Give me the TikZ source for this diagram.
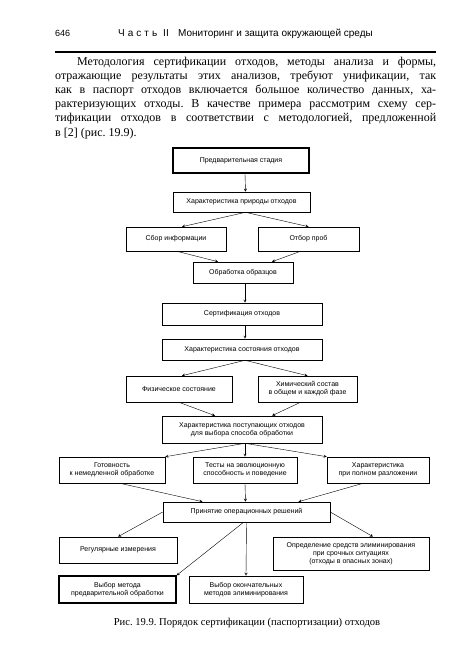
\documentclass[tikz,border=0pt]{standalone}
\usepackage{fontspec}
\setmainfont{Liberation Serif}
\setsansfont{Liberation Sans}
\frenchspacing
\begin{document}
\begin{tikzpicture}[x=1pt,y=-1pt,>=stealth,
	blk/.style={draw,line width=0.6pt,inner sep=1pt,align=center,
		font=\sffamily\fontsize{7}{8}\selectfont},
	thk/.style={line width=1.3pt}]
	\useasboundingbox (0,0) rectangle (450,670);
	
	% page head
	\node[anchor=base west,inner sep=0,font=\sffamily\fontsize{9}{10}\selectfont] (pg) at (55,36) {646};
	\node[anchor=base west,inner sep=0,font=\sffamily\fontsize{10}{11}\selectfont] (part) at (118,36) {Ч\hspace{3pt}а\hspace{3pt}с\hspace{3pt}т\hspace{3pt}ь\hspace{6pt}II};
	\node[anchor=base west,inner sep=0,font=\sffamily\fontsize{10}{11}\selectfont] (hdr) at (178,36) {Мониторинг и защита окружающей среды};
	\draw[line width=1.5pt] (55,52) -- (436,52);
	
	\node[anchor=north west,inner sep=0,text width=381pt,align=justify,
		font=\fontsize{12}{14.1}\selectfont] (txt) at (55,57)
		{\hspace*{22pt}Методология сертификации отходов, методы анализа и формы,\linebreak
		отражающие результаты этих анализов, требуют унификации, так\linebreak
		как в паспорт отходов включается большое количество данных, ха-\linebreak
		рактеризующих отходы. В качестве примера рассмотрим схему сер-\linebreak
		тификации отходов в соответствии с методологией, предложенной\linebreak
		в [2] (рис. 19.9).};
	
	% boxes
	\node[blk,thk,minimum width=136pt,minimum height=25pt] (pred) at (241,160.5) {Предварительная стадия};
	\node[blk,minimum width=137pt,minimum height=20pt] (prir) at (241.5,202) {Характеристика природы отходов};
	\node[blk,minimum width=100pt,minimum height=24pt] (sbor) at (176,239) {Сбор информации};
	\node[blk,minimum width=101pt,minimum height=24pt] (otbor) at (308.5,239) {Отбор проб};
	\node[blk,minimum width=100pt,minimum height=21pt] (obr) at (243,272.5) {Обработка образцов};
	\node[blk,minimum width=160pt,minimum height=22pt] (sert) at (242,314) {Сертификация отходов};
	\node[blk,minimum width=160pt,minimum height=21pt] (sost) at (242,349.5) {Характеристика состояния отходов};
	\node[blk,minimum width=106pt,minimum height=26pt] (fiz) at (179,389) {Физическое состояние};
	\node[blk,minimum width=99pt,minimum height=26pt] (him) at (307.5,389) {Химический состав\\в общем и каждой фазе};
	\node[blk,minimum width=160pt,minimum height=27pt] (post) at (242,429.5) {Характеристика поступающих отходов\\для выбора способа обработки};
	\node[blk,minimum width=106pt,minimum height=26pt] (got) at (112,470) {Готовность\\к немедленной обработке};
	\node[blk,minimum width=104pt,minimum height=26pt] (test) at (245,470) {Тесты на эволюционную\\способность и поведение};
	\node[blk,minimum width=102pt,minimum height=26pt] (razl) at (378,470) {Характеристика\\при полном разложении};
	\node[blk,minimum width=167pt,minimum height=20pt] (resh) at (246.5,512) {Принятие операционных решений};
	\node[blk,minimum width=118pt,minimum height=26pt] (reg) at (118,550) {Регулярные измерения};
	\node[blk,minimum width=156pt,minimum height=33pt] (opr) at (351,553.5) {Определение средств элиминирования\\при срочных ситуациях\\(отходы в опасных зонах)};
	\node[blk,thk,minimum width=117pt,minimum height=27pt] (pre) at (117.5,589.5) {Выбор метода\\предварительной обработки};
	\node[blk,minimum width=114pt,minimum height=27pt] (okon) at (246,589.5) {Выбор окончательных\\методов элиминирования};
	
	% arrows
	\draw[->] ([xshift=4pt]pred.south) -- ([xshift=4pt]prir.north);
	\draw[->] ([xshift=4pt]prir.south) -- ([xshift=6pt]sbor.north);
	\draw[->] ([xshift=4pt]prir.south) -- (otbor.north);
	\draw[->] ([xshift=1pt]sbor.south) -- ([xshift=-25pt]obr.north);
	\draw[->] ([xshift=-8pt]otbor.south) -- ([xshift=29pt]obr.north);
	\draw[->] ([xshift=2pt]obr.south) -- ([xshift=3pt]sert.north);
	\draw[->] ([xshift=3pt]sert.south) -- ([xshift=3pt]sost.north);
	\draw[->] ([xshift=3pt]sost.south) -- ([xshift=3pt]fiz.north);
	\draw[->] ([xshift=3pt]sost.south) -- (him.north);
	\draw[->] (fiz.south) -- ([xshift=-27pt]post.north);
	\draw[->] ([xshift=-7pt]him.south) -- ([xshift=30pt]post.north);
	\draw[->] ([xshift=3pt]post.south) -- (got.north east);
	\draw[->] ([xshift=3pt]post.south) -- (test.north);
	\draw[->] ([xshift=3pt]post.south) -- (razl.north west);
	\draw[->] ([xshift=8pt]got.south) -- ([xshift=-44pt]resh.north);
	\draw[->] (test.south) -- ([xshift=-1pt]resh.north);
	\draw[->] ([xshift=-15pt]razl.south) -- ([xshift=52pt]resh.north);
	\draw[->] (resh.west) -- (reg.north);
	\draw[->] (resh.east) -- ([xshift=22pt]opr.north);
	\draw[->] ([xshift=-3pt]resh.south) -- (pre.north east);
	\draw[->] (resh.south) -- (okon.north);
	
	\node[anchor=base,inner sep=0,font=\fontsize{10.6}{12}\selectfont] (cap) at (247,625)
		{Рис. 19.9. Порядок сертификации (паспортизации) отходов};
\end{tikzpicture}
\end{document}
